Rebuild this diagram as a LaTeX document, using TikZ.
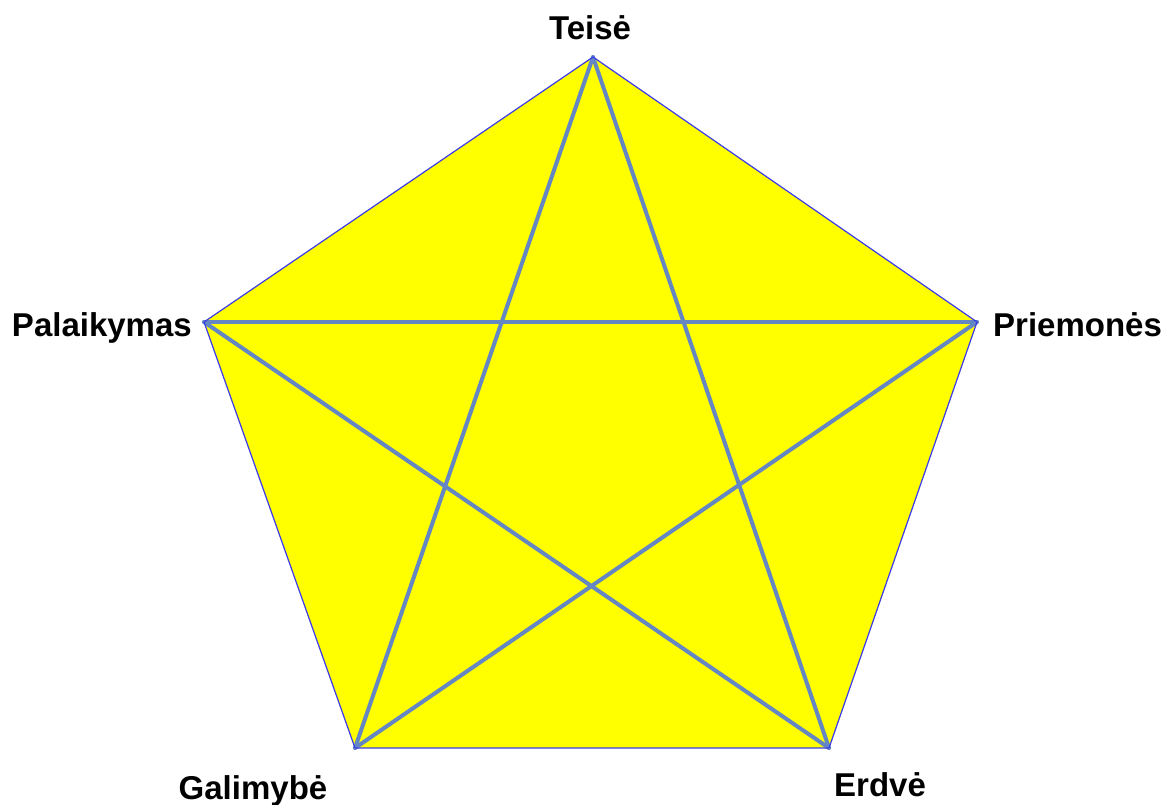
\documentclass[tikz,border=0pt]{standalone}
\usepackage{fontspec}
\setmainfont{Liberation Sans}
\usetikzlibrary{positioning}
\definecolor{starblue}{RGB}{100,135,195}
\definecolor{edgeblue}{RGB}{59,59,232}
\definecolor{padyellow}{RGB}{255,255,0}

\begin{document}
\begin{tikzpicture}[
  x=1pt, y=1pt,
  vlabel/.style={font=\fontsize{33}{38}\selectfont\bfseries, inner sep=0pt},
  star/.style={draw=starblue, line width=4pt, line cap=round}
]
\useasboundingbox (0,0) rectangle (1164,805);

% pentagon corners
\coordinate (teise) at (593,748);
\coordinate (priem) at (977,483);
\coordinate (palaik) at (204,483);
\coordinate (galim) at (355,57);
\coordinate (erdve) at (829,57);

\fill[padyellow] (teise) -- (priem) -- (erdve) -- (galim) -- (palaik) -- cycle;

% star
\draw[star] (teise) -- (galim);
\draw[star] (teise) -- (erdve);
\draw[star] (palaik) -- (priem);
\draw[star] (palaik) -- (erdve);
\draw[star] (priem) -- (galim);

\draw[edgeblue, line width=1.2pt, line join=round] (teise) -- (priem) -- (erdve) -- (galim) -- (palaik) -- cycle;

% labels
\node[vlabel, anchor=base] (lteise) at (590,765) {Teisė};
\node[vlabel, anchor=base east] (lpalaik) at (192,468) {Palaikymas};
\node[vlabel, anchor=base west] (lpriem) at (993,468) {Priemonės};
\node[vlabel, anchor=base] (lgalim) at (253,5) {Galimybė};
\node[vlabel, anchor=base] (lerdve) at (880,8) {Erdvė};
\end{tikzpicture}
\end{document}
